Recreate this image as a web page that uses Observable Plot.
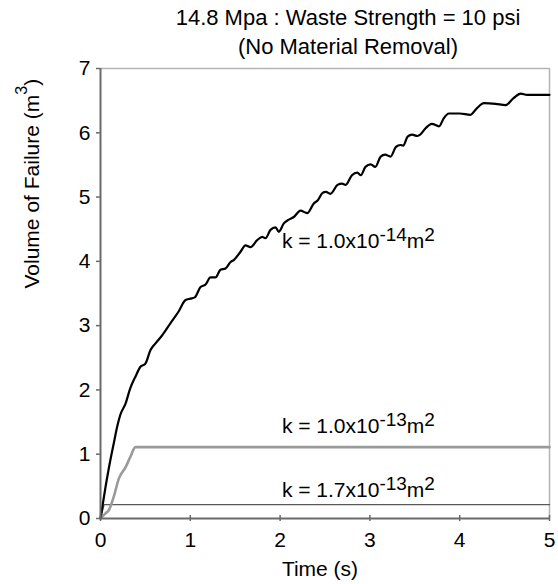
<!DOCTYPE html>
<html><head><meta charset="utf-8">
<script src="https://cdn.jsdelivr.net/npm/d3@7"></script>
<script src="https://cdn.jsdelivr.net/npm/@observablehq/plot@0.6"></script>
<style>
html,body{margin:0;padding:0;background:#fff;}
#chart svg{font-family:"Liberation Sans",Arial,sans-serif;display:block;}
</style>
</head><body><div id="chart"></div>
<script>
const titleLines = ["14.8 Mpa : Waste Strength = 10 psi", "(No Material Removal)"];
const xLabel = "Time (s)";
const yLabel = "Volume of Failure (m^{3})";
const xTicks = [0, 1, 2, 3, 4, 5];
const yTicks = [0, 1, 2, 3, 4, 5, 6, 7];

// k = 1.0x10^-14 m^2
const timeK14 = [0, 0.056, 0.11, 0.148, 0.186, 0.22, 0.28, 0.33, 0.39, 0.445, 0.50, 0.557, 0.61, 0.687, 0.78, 0.87, 0.947, 1.00, 1.05, 1.114, 1.17, 1.225, 1.281, 1.336, 1.392, 1.448, 1.484, 1.559, 1.615, 1.670, 1.745, 1.801, 1.837, 1.893, 1.949, 1.986, 2.041, 2.097, 2.153, 2.227, 2.302, 2.375, 2.42, 2.47, 2.51, 2.56, 2.64, 2.69, 2.73, 2.80, 2.86, 2.90, 2.95, 3.01, 3.06, 3.12, 3.17, 3.23, 3.29, 3.34, 3.37, 3.42, 3.47, 3.53, 3.56, 3.62, 3.69, 3.77, 3.82, 3.88, 4.00, 4.12, 4.19, 4.27, 4.40, 4.51, 4.60, 4.68, 4.75, 5.00];
const volK14 = [0, 0.49, 0.91, 1.17, 1.43, 1.61, 1.79, 2.02, 2.21, 2.36, 2.41, 2.62, 2.72, 2.85, 3.04, 3.22, 3.40, 3.42, 3.44, 3.60, 3.64, 3.75, 3.75, 3.87, 3.89, 3.99, 4.02, 4.15, 4.25, 4.22, 4.33, 4.38, 4.36, 4.49, 4.53, 4.46, 4.59, 4.65, 4.69, 4.79, 4.75, 4.90, 4.95, 5.06, 5.08, 5.05, 5.19, 5.21, 5.19, 5.34, 5.38, 5.34, 5.47, 5.51, 5.47, 5.63, 5.66, 5.63, 5.78, 5.81, 5.80, 5.94, 5.97, 5.95, 5.97, 6.07, 6.14, 6.10, 6.22, 6.30, 6.30, 6.28, 6.38, 6.46, 6.45, 6.43, 6.54, 6.61, 6.59, 6.59];

// k = 1.0x10^-13 m^2
const timeK13 = [0, 0.056, 0.093, 0.148, 0.204, 0.28, 0.33, 0.39, 5.0];
const volK13 = [0, 0.08, 0.13, 0.34, 0.62, 0.80, 0.95, 1.11, 1.11];

// k = 1.7x10^-13 m^2
const timeK17 = [0, 0.04, 5.0];
const volK17 = [0, 0.215, 0.215];

const seriesLabels = ["k = 1.0x10^{-14}m^{2}", "k = 1.0x10^{-13}m^{2}", "k = 1.7x10^{-13}m^{2}"];
const labelTime = [2.02, 2.02, 2.02];
const labelVol = [4.21, 1.33, 0.34];

const toRows = (ts, vs) => ts.map((t, i) => ({t, v: vs[i]}));
const rowsK14 = toRows(timeK14, volK14);
const rowsK13 = toRows(timeK13, volK13);
const rowsK17 = toRows(timeK17, volK17);
const labelRows = seriesLabels.map((s, i) => ({s, t: labelTime[i], v: labelVol[i]}));

const svg = Plot.plot({
  width: 558, height: 584,
  marginLeft: 100, marginRight: 9, marginTop: 68, marginBottom: 66,
  style: {fontFamily: "Liberation Sans, Arial, sans-serif", fontSize: "21px", background: "#fff", color: "#000", overflow: "visible"},
  x: {domain: [0, 5], axis: null},
  y: {domain: [0, 7], axis: null},
  marks: [
    Plot.ruleY([7], {stroke: "#b4b4b4", strokeWidth: 1.5}),
    Plot.ruleX([5], {stroke: "#b4b4b4", strokeWidth: 1.5}),
    Plot.line(rowsK17, {x: "t", y: "v", stroke: "#5a5a5a", strokeWidth: 1.3}),
    Plot.line(rowsK13, {x: "t", y: "v", stroke: "#9a9a9a", strokeWidth: 2.6, curve: "monotone-x"}),
    Plot.line(rowsK14, {x: "t", y: "v", stroke: "#000", strokeWidth: 2.2, curve: "monotone-x"}),
    Plot.ruleX([0], {stroke: "#6a6a6a", strokeWidth: 2}),
    Plot.ruleY([0], {stroke: "#6a6a6a", strokeWidth: 2}),
    Plot.axisY(yTicks, {anchor: "left", tickSize: 4, tickPadding: 6, stroke: "#6a6a6a", strokeWidth: 1.5, fill: "#000", fontSize: 21, label: null, tickFormat: d => String(d)}),
    Plot.axisX(xTicks, {anchor: "bottom", tickSize: 6, dy: -3, tickPadding: 11, stroke: "#6a6a6a", strokeWidth: 1.5, fill: "#000", fontSize: 21, label: null, tickFormat: d => String(d)}),
    Plot.text(labelRows, {x: "t", y: "v", text: "s", textAnchor: "start", lineAnchor: "bottom", fontSize: 21, fill: "#000"}),
    Plot.text([titleLines[0]], {frameAnchor: "top", text: d => d, dx: 23, dy: -44, lineAnchor: "bottom", fontSize: 22, fill: "#000"}),
    Plot.text([titleLines[1]], {frameAnchor: "top", text: d => d, dx: 23, dy: -15, lineAnchor: "bottom", fontSize: 22, fill: "#000"}),
    Plot.text([xLabel], {frameAnchor: "bottom", text: d => d, dx: -5, dy: 57, lineAnchor: "bottom", fontSize: 21, fill: "#000"}),
    Plot.text([yLabel], {frameAnchor: "left", text: d => d, rotate: -90, dx: -61.5, dy: -5, lineAnchor: "bottom", fontSize: 21, fill: "#000"})
  ]
});

document.getElementById("chart").appendChild(svg);

// superscripts
d3.select(svg).selectAll("text").each(function() {
  const s = this.textContent;
  if (!s.includes("^{")) return;
  const isY = s.startsWith("Volume");
  const rise = isY ? 12 : 7;
  const supSize = isY ? 16 : 19;
  const parts = s.split(/(\^\{[^}]*\})/).filter(p => p);
  const el = d3.select(this);
  el.text(null);
  let raised = false;
  parts.forEach(p => {
    if (p.startsWith("^{")) {
      el.append("tspan").attr("dy", -rise).attr("font-size", supSize).text(p.slice(2, -1));
      raised = true;
    } else {
      const ts = el.append("tspan").text(p);
      if (raised) ts.attr("dy", rise);
      raised = false;
    }
  });
});
</script>
</body></html>
